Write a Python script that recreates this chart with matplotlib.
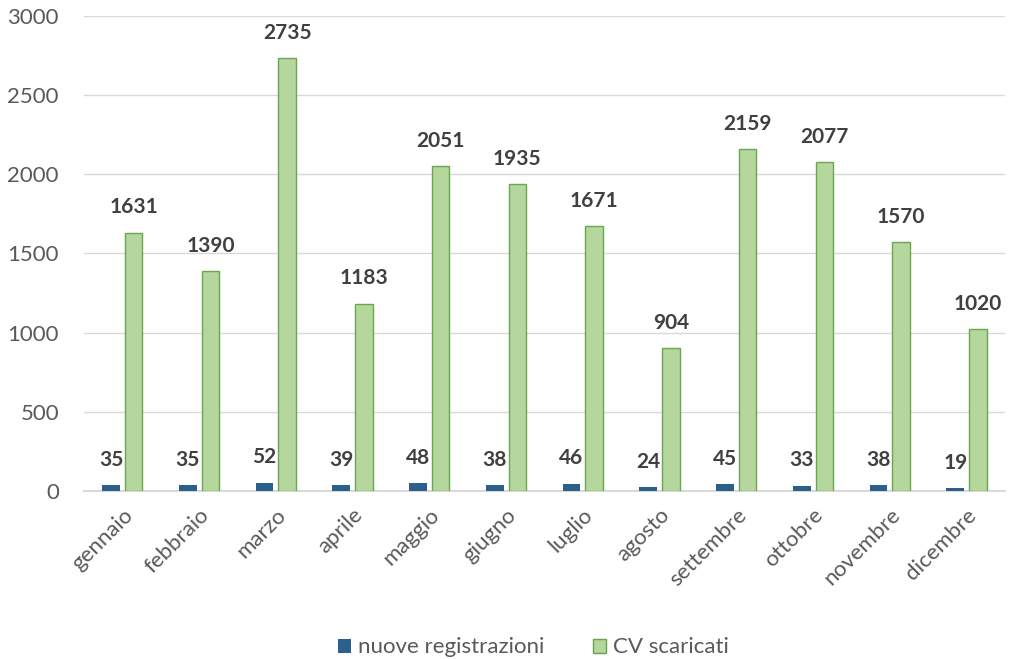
import numpy as np
from matplotlib import pyplot as plt

months = ["gennaio", "febbraio", "marzo", "aprile", "maggio", "giugno",
          "luglio", "agosto", "settembre", "ottobre", "novembre", "dicembre"]
nuove_registrazioni = [35, 35, 52, 39, 48, 38, 46, 24, 45, 33, 38, 19]
cv_scaricati = [1631, 1390, 2735, 1183, 2051, 1935, 1671, 904, 2159, 2077, 1570, 1020]

plt.rcParams["font.family"] = ["Lato", "DejaVu Sans"]

fig = plt.figure(figsize=(10.12, 6.59), dpi=100)
ax = fig.add_axes([0.083, 0.255, 0.910, 0.721])

x = np.arange(len(months))
w = 0.23
off = 0.147
blue = "#2b5f8c"
green_fill = "#b5d69c"
green_edge = "#6aa84f"
label_col = "#404040"
grey = "#595959"

ax.bar(x - off, nuove_registrazioni, width=w, color=blue, label="nuove registrazioni", zorder=3)
ax.bar(x + off, cv_scaricati, width=w, color=green_fill, edgecolor=green_edge, linewidth=1,
       label="CV scaricati", zorder=3)

for xi, v in zip(x, nuove_registrazioni):
    ax.annotate(str(v), (xi - off, v), xytext=(0, 11), textcoords="offset points",
                ha="center", va="bottom", fontsize=15, fontweight="bold", color=label_col)
for xi, v in zip(x, cv_scaricati):
    ax.annotate(str(v), (xi + off, v), xytext=(0, 11), textcoords="offset points",
                ha="center", va="bottom", fontsize=15, fontweight="bold", color=label_col)

ax.set_xlim(-0.5, len(months) - 0.5)
ax.set_ylim(0, 3000)
ax.set_yticks(range(0, 3001, 500))
ax.yaxis.grid(True, color="#d9d9d9", linewidth=1, zorder=0)
ax.set_axisbelow(True)
for s in ["top", "right", "left"]:
    ax.spines[s].set_visible(False)
ax.spines["bottom"].set_color("#d9d9d9")
ax.spines["bottom"].set_linewidth(1.5)
ax.tick_params(axis="both", length=0, labelsize=16, labelcolor=grey)
ax.tick_params(axis="y", pad=18)
ax.tick_params(axis="x", pad=10)
ax.set_xticks(x)
ax.set_xticklabels(months, rotation=45, ha="right", rotation_mode="anchor")

fig.legend(loc="lower center", ncol=2, frameon=False, fontsize=16, labelcolor=grey,
           handlelength=0.6, handleheight=0.6, handletextpad=0.3, columnspacing=2.2,
           bbox_to_anchor=(0.527, -0.028))

fig.savefig("out.png", dpi=100)
